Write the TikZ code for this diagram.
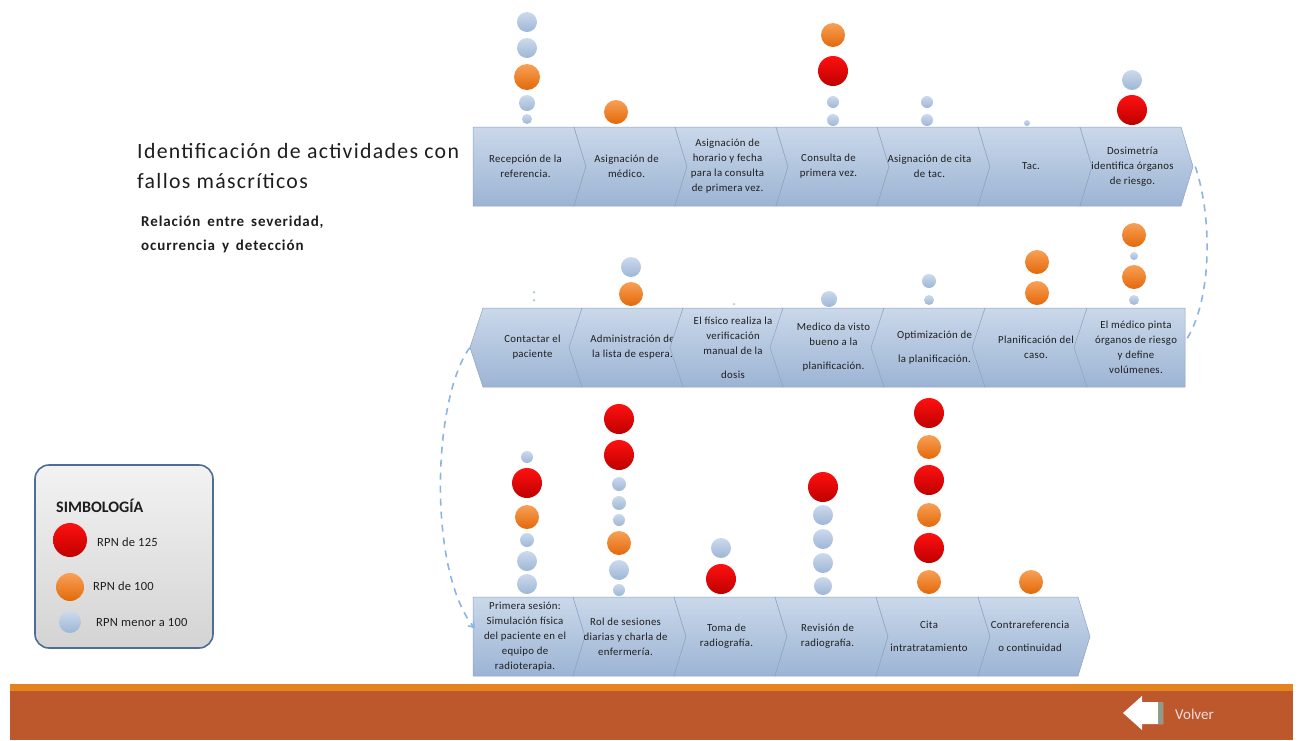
\documentclass[tikz,border=0pt]{standalone}
\usepackage{fontspec}
\setmainfont{Carlito}
\newfontfamily\subfont[LetterSpace=6,WordSpace=1.6]{Carlito}
\usetikzlibrary{arrows.meta}

\definecolor{chevtop}{HTML}{CAD8EA}
\definecolor{chevbot}{HTML}{9CB4D4}
\definecolor{chevline}{HTML}{8EA3BF}
\definecolor{rpnRa}{HTML}{FF1010}
\definecolor{rpnRb}{HTML}{BF0000}
\definecolor{rpnOa}{HTML}{F9A055}
\definecolor{rpnOb}{HTML}{E2690A}
\definecolor{rpnBa}{HTML}{CCDAEC}
\definecolor{rpnBb}{HTML}{9DB6D6}
\definecolor{linkblue}{HTML}{8DB4E2}
\definecolor{barorange}{HTML}{E5841C}
\definecolor{barbrown}{HTML}{BD582C}
\definecolor{legline}{HTML}{4E6D94}
\definecolor{textdark}{HTML}{1E1E1E}
\definecolor{volvertext}{HTML}{F3DCE4}
\definecolor{arrowedge}{HTML}{8E9C8C}

% right-pointing chevron: name, x0, x1, top, bottom, left notch, text
\newcommand{\chevR}[7]{%
  \shadedraw[chev] (#2,#4) -- (#3,#4) -- (#3+12,{(#4+#5)/2}) -- (#3,#5) -- (#2,#5) -- (#2+#6,{(#4+#5)/2}) -- cycle;
  \node[boxtext, minimum width={#3-#2}, minimum height={#5-#4}] (#1) at ({(#2+#3)/2+2},{(#4+#5)/2}) {#7};
}
% left-pointing chevron: name, x0, x1, top, bottom, right notch, text
\newcommand{\chevL}[7]{%
  \shadedraw[chev] (#2,#4) -- (#3,#4) -- (#3-#6,{(#4+#5)/2}) -- (#3,#5) -- (#2,#5) -- (#2-13,{(#4+#5)/2}) -- cycle;
  \node[boxtext, minimum width={#3-#2}, minimum height={#5-#4}] (#1) at ({(#2+#3)/2},{(#4+#5)/2}) {#7};
}
% RPN marker: name, x, y, radius, style
\newcommand{\rpn}[5]{\node[#5, minimum size={2*#4}] (#1) at (#2,#3) {};}

\begin{document}
\begin{tikzpicture}[x=1pt,y=-1pt,
  chev/.style={top color=chevtop, bottom color=chevbot, draw=chevline, line width=0.5pt},
  boxtext/.style={inner sep=0pt, align=center, text=textdark,
    font=\fontsize{10.8}{15}\selectfont\addfontfeature{LetterSpace=3}},
  rpnR/.style={circle, inner sep=0pt, top color=rpnRa, bottom color=rpnRb},
  rpnO/.style={circle, inner sep=0pt, top color=rpnOa, bottom color=rpnOb},
  rpnB/.style={circle, inner sep=0pt, top color=rpnBa, bottom color=rpnBb},
  link/.style={draw=linkblue, line width=1.6pt, dash pattern=on 7pt off 6pt},
  legtext/.style={anchor=west, inner sep=0pt, text=textdark,
    font=\fontsize{12.5}{14}\selectfont\addfontfeature{LetterSpace=2}},
  titletext/.style={anchor=base west, inner sep=0pt, text=textdark,
    font=\fontsize{21.8}{24}\selectfont\addfontfeature{LetterSpace=6}},
  subtext/.style={anchor=base west, inner sep=0pt, text=textdark,
    font=\subfont\bfseries\fontsize{15}{17}\selectfont}]

\useasboundingbox (0,0) rectangle (1299,740);

% ---------- title ----------
\node[titletext] (title1) at (137,158) {Identificación de actividades con};
\node[titletext] (title2) at (137,188) {fallos máscríticos};
\node[subtext] (sub1) at (141,226) {Relación entre severidad,};
\node[subtext] (sub2) at (141,250) {ocurrencia y detección};

% ---------- first row ----------
\chevR{ra}{473}{574}{127}{206}{0}{Recepción de la\\referencia.}
\chevR{rb}{574}{675}{127}{206}{12}{Asignación de\\médico.}
\chevR{rc}{675}{776}{127}{206}{12}{Asignación de\\horario y fecha\\para la consulta\\de primera vez.}
\chevR{rd}{776}{877}{127}{206}{12}{Consulta de\\primera vez.}
\chevR{re}{877}{978}{127}{206}{12}{Asignación de cita\\de tac.}
\chevR{rf}{978}{1080}{127}{206}{12}{Tac.}
\chevR{rg}{1080}{1181}{127}{206}{12}{Dosimetría\\identifica órganos\\de riesgo.}

% ---------- second row ----------
\chevL{sa}{483}{582}{308}{387}{12}{Contactar el\\paciente}
\chevL{sb}{582}{683}{308}{387}{12}{Administración de\\la lista de espera.}
\chevL{sc}{683}{783}{308}{387}{12}{El físico realiza la\\verificación\\manual de la\\[9pt]dosis}
\chevL{sd}{783}{884}{308}{387}{12}{Medico da visto\\bueno a la\\[9pt]planificación.}
\chevL{se}{884}{985}{308}{387}{12}{Optimización de\\[9pt]la planificación.}
\chevL{sf}{985}{1087}{308}{387}{12}{Planificación del\\caso.}
\chevL{sg}{1087}{1185}{308}{387}{0}{El médico pinta\\órganos de riesgo\\y define\\volúmenes.}

% ---------- third row ----------
\chevR{ta}{473}{573}{597}{676}{0}{Primera sesión:\\Simulación física\\del paciente en el\\equipo de\\radioterapia.}
\chevR{tb}{573}{674}{597}{676}{12}{Rol de sesiones\\diarias y charla de\\enfermería.}
\chevR{tc}{674}{775}{597}{676}{12}{Toma de\\radiografía.}
\chevR{td}{775}{876}{597}{676}{12}{Revisión de\\radiografía.}
\chevR{te}{876}{978}{597}{676}{12}{Cita\\[8pt]intratratamiento}
\chevR{tf}{978}{1078}{597}{676}{12}{Contrareferencia\\[8pt]o continuidad}

% ---------- row links ----------
\draw[link] ([xshift=12pt]rg.east) .. controls (1212,215) and (1213,300) .. ([yshift=6pt]sg.east);
\draw[link, -{Straight Barb[length=5pt,width=7pt]}] ([xshift=-13pt]sa.west)
  .. controls (432,400) and (428,570) .. ([yshift=8pt]ta.west);

% ---------- RPN markers, first row ----------
\rpn{a1}{527}{22}{10}{rpnB}
\rpn{a2}{527}{48}{10}{rpnB}
\rpn{a3}{527}{77}{13}{rpnO}
\rpn{a4}{527}{103}{8}{rpnB}
\rpn{a5}{527}{119}{5}{rpnB}
\rpn{b1}{616}{112}{12}{rpnO}
\rpn{d1}{833}{35}{12}{rpnO}
\rpn{d2}{833}{71}{15}{rpnR}
\rpn{d3}{833}{102}{6}{rpnB}
\rpn{d4}{833}{120}{6}{rpnB}
\rpn{e1}{927}{102}{6}{rpnB}
\rpn{e2}{927}{120}{6}{rpnB}
\rpn{f1}{1027}{123}{3}{rpnB}
\rpn{g1}{1132}{80}{10}{rpnB}
\rpn{g2}{1132}{110}{15}{rpnR}

% ---------- RPN markers, second row ----------
\rpn{h1}{534}{292}{1.5}{rpnB}
\rpn{h2}{534}{300}{1.5}{rpnB}
\rpn{i1}{631}{267}{10}{rpnB}
\rpn{i2}{631}{294}{12}{rpnO}
\rpn{j1}{734}{304}{1.3}{rpnB}
\rpn{k1}{829}{299}{8}{rpnB}
\rpn{l1}{929}{281}{7}{rpnB}
\rpn{l2}{929}{300}{5}{rpnB}
\rpn{m1}{1037}{262}{12}{rpnO}
\rpn{m2}{1037}{293}{12}{rpnO}
\rpn{n1}{1134}{235}{12}{rpnO}
\rpn{n2}{1134}{256}{4}{rpnB}
\rpn{n3}{1134}{277}{12}{rpnO}
\rpn{n4}{1134}{300}{5}{rpnB}

% ---------- RPN markers, third row ----------
\rpn{p1}{527}{457}{6}{rpnB}
\rpn{p2}{527}{483}{15}{rpnR}
\rpn{p3}{527}{517}{12}{rpnO}
\rpn{p4}{527}{540}{7}{rpnB}
\rpn{p5}{527}{561}{10}{rpnB}
\rpn{p6}{527}{584}{10}{rpnB}
\rpn{q1}{619}{419}{15}{rpnR}
\rpn{q2}{619}{455}{15}{rpnR}
\rpn{q3}{619}{484}{7}{rpnB}
\rpn{q4}{619}{503}{7}{rpnB}
\rpn{q5}{619}{520}{6}{rpnB}
\rpn{q6}{619}{543}{12}{rpnO}
\rpn{q7}{619}{570}{10}{rpnB}
\rpn{q8}{619}{590}{6}{rpnB}
\rpn{s1}{721}{548}{10}{rpnB}
\rpn{s2}{721}{579}{15}{rpnR}
\rpn{u1}{823}{487}{15}{rpnR}
\rpn{u2}{823}{515}{10}{rpnB}
\rpn{u3}{823}{539}{10}{rpnB}
\rpn{u4}{823}{563}{10}{rpnB}
\rpn{u5}{823}{586}{9}{rpnB}
\rpn{v1}{929}{413}{15}{rpnR}
\rpn{v2}{929}{447}{12}{rpnO}
\rpn{v3}{929}{480}{15}{rpnR}
\rpn{v4}{929}{515}{12}{rpnO}
\rpn{v5}{929}{548}{15}{rpnR}
\rpn{v6}{929}{582}{12}{rpnO}
\rpn{w1}{1031}{582}{12}{rpnO}

% ---------- legend ----------
\node[draw=legline, line width=1.6pt, rounded corners=14pt, top color=white!95!black,
  bottom color=white!83!black, minimum width=178pt, minimum height=183pt, inner sep=0pt]
  (legend) at (124,556.5) {};
\node[anchor=base west, inner sep=0pt, text=textdark, font=\bfseries\fontsize{16}{18}\selectfont]
  (legtitle) at (56,512) {SIMBOLOGÍA};
\rpn{lr}{70}{540}{17}{rpnR}
\node[legtext] (lrt) at (97,542) {RPN de 125};
\rpn{lo}{70}{587}{14}{rpnO}
\node[legtext] (lot) at (93,586) {RPN de 100};
\rpn{lb}{70}{622}{11}{rpnB}
\node[legtext] (lbt) at (96,622) {RPN menor a 100};

% ---------- footer bar ----------
\fill[barorange] (10,684) rectangle (1293,691);
\fill[barbrown] (10,691) rectangle (1293,740);
\fill[white] (1123,713) -- (1142,696) -- (1142,702) -- (1163,702) -- (1163,724) -- (1142,724) -- (1142,730) -- cycle;
\fill[arrowedge] (1158,702) rectangle (1163,724);
\node[anchor=west, inner sep=0pt, text=volvertext, font=\fontsize{15}{17}\selectfont] (volver) at (1175,714) {Volver};

\end{tikzpicture}
\end{document}
